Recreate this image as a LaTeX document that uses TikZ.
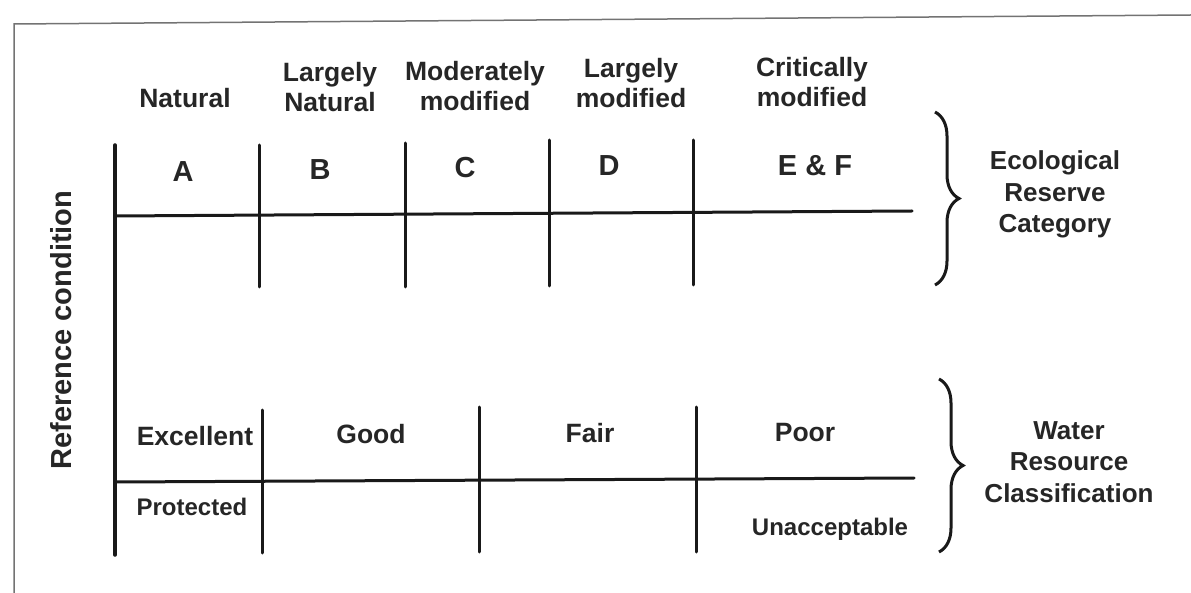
\documentclass[tikz,border=0pt]{standalone}
\usepackage{fontspec}
\setmainfont{Liberation Sans}
\usetikzlibrary{decorations.pathreplacing}
\begin{document}
\begin{tikzpicture}[x=1pt,y=-1pt,
  gridline/.style={line width=3pt,black!90,line cap=round},
  framel/.style={line width=1.5pt,black!55},
  bracel/.style={line width=3pt,black!90,decorate,decoration={brace,amplitude=24pt}},
  lbl/.style={font=\bfseries\fontsize{26.5}{30}\selectfont,text=black!85,inner sep=0pt,anchor=base,align=center},
  letter/.style={font=\bfseries\fontsize{29}{32}\selectfont,text=black!85,inner sep=0pt,anchor=base},
  small/.style={font=\bfseries\fontsize{24}{28}\selectfont,text=black!85,inner sep=0pt,anchor=base},
  side/.style={font=\bfseries\fontsize{26}{31.5}\selectfont,text=black!85,inner sep=0pt,anchor=base,align=center}]
\useasboundingbox (0,0) rectangle (1191,593);
% scan frame
\coordinate (f1) at (14,593);
\coordinate (f2) at (14,24);
\coordinate (f3) at (1191,15);
\draw[framel] (f1) -- (f2) -- (f3);
% main axis
\coordinate (ax1) at (115,145);
\coordinate (ax2) at (115,555);
\draw[gridline,line width=3.5pt] (ax1) -- (ax2);
% top grid
\coordinate (t1a) at (259,145); \coordinate (t1b) at (259,287);
\coordinate (t2a) at (405,143); \coordinate (t2b) at (405,287);
\coordinate (t3a) at (549,140); \coordinate (t3b) at (549,286);
\coordinate (t4a) at (693,140); \coordinate (t4b) at (693,285);
\coordinate (th1) at (115,216); \coordinate (th2) at (912,211);
\draw[gridline] (t1a) -- (t1b);
\draw[gridline] (t2a) -- (t2b);
\draw[gridline] (t3a) -- (t3b);
\draw[gridline] (t4a) -- (t4b);
\draw[gridline] (th1) -- (th2);
% bottom grid
\coordinate (b1a) at (262,410); \coordinate (b1b) at (262,553);
\coordinate (b2a) at (479,407); \coordinate (b2b) at (479,552);
\coordinate (b3a) at (696,407); \coordinate (b3b) at (696,552);
\coordinate (bh1) at (115,482); \coordinate (bh2) at (914,478);
\draw[gridline] (b1a) -- (b1b);
\draw[gridline] (b2a) -- (b2b);
\draw[gridline] (b3a) -- (b3b);
\draw[gridline] (bh1) -- (bh2);
% braces
\coordinate (br1a) at (935,112); \coordinate (br1b) at (935,285);
\coordinate (br2a) at (939,379); \coordinate (br2b) at (939,552);
\draw[bracel] (br1a) -- (br1b);
\draw[bracel] (br2a) -- (br2b);
% top labels
\node[lbl] (nat) at (185,108) {Natural};
\node[lbl] (lnat) at (330,112) {Largely\\Natural};
\node[lbl] (mod) at (475,111) {Moderately\\modified};
\node[lbl] (lmod) at (631,108) {Largely\\modified};
\node[lbl] (cmod) at (812,107) {Critically\\modified};
% letters
\node[letter] (A) at (183,182) {A};
\node[letter] (B) at (320,180) {B};
\node[letter] (C) at (465,178) {C};
\node[letter] (D) at (609,176) {D};
\node[letter] (EF) at (815,176) {E \& F};
% side labels
\node[side] (erc) at (1055,233) {Ecological\\Reserve\\Category};
\node[side] (wrc) at (1069,502) {Water\\Resource\\Classification};
% bottom labels
\node[lbl] (exc) at (195,445) {Excellent};
\node[lbl] (good) at (371,443) {Good};
\node[lbl] (fair) at (590,442) {Fair};
\node[lbl] (poor) at (805,441) {Poor};
\node[small] (prot) at (192,515) {Protected};
\node[small] (unacc) at (830,535) {Unacceptable};
% axis label
\node[font=\bfseries\fontsize{29}{32}\selectfont,text=black!85,inner sep=0pt,rotate=90] (refc) at (61,330) {Reference condition};
\end{tikzpicture}
\end{document}
